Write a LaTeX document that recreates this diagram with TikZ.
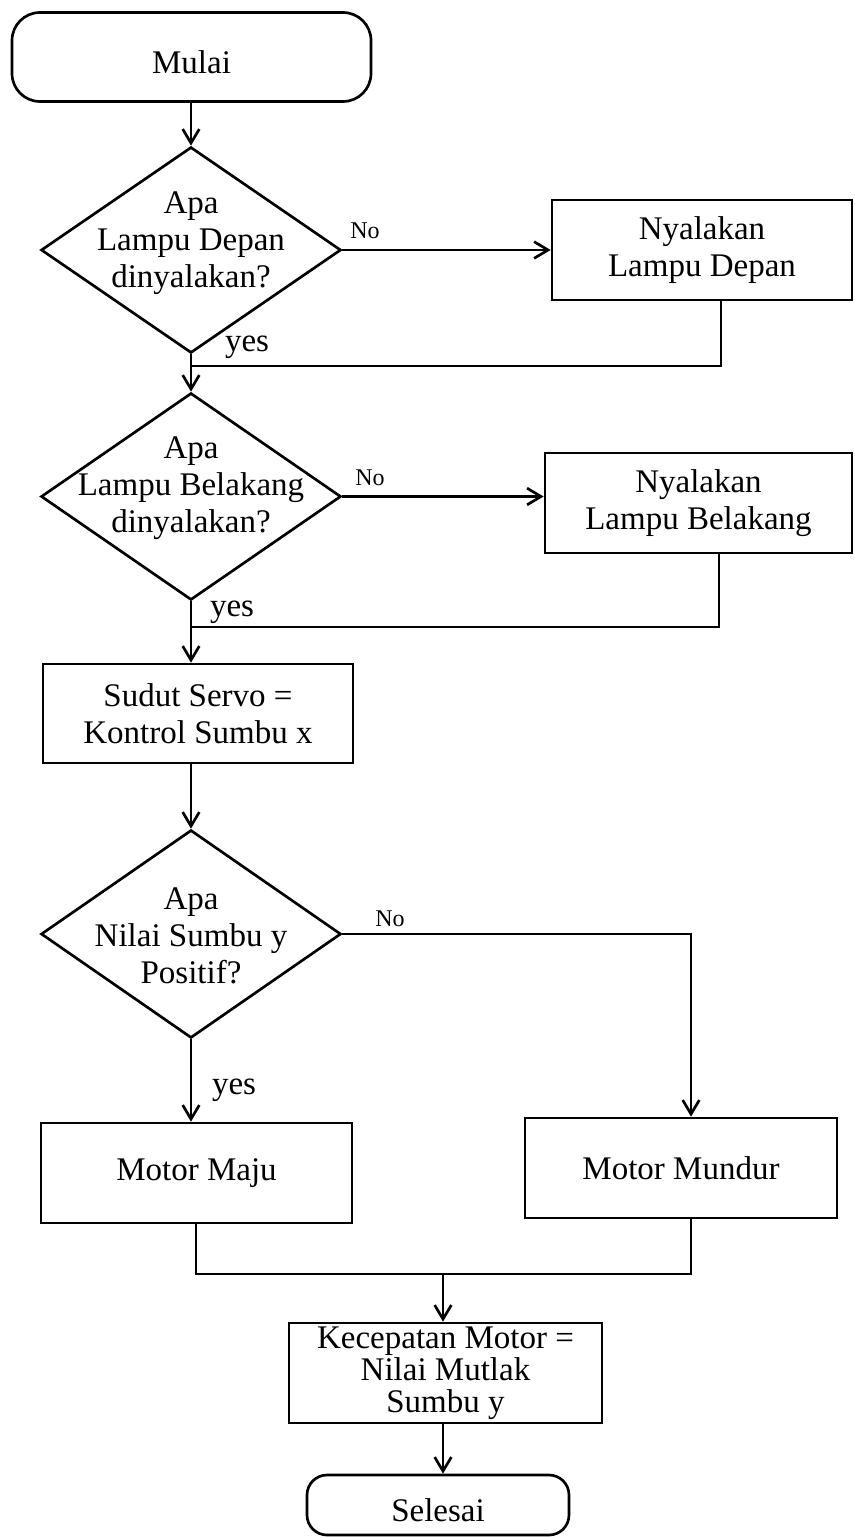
\documentclass[tikz,border=0pt]{standalone}
\usepackage{fontspec}
\setmainfont{Liberation Serif}
\usetikzlibrary{shapes.geometric,arrows.meta}

\tikzset{every picture/.style={line width=2pt}}
\tikzset{
  flowtext/.style={font=\fontsize{24.75}{27.75}\selectfont, inner sep=0pt, align=center},
  terminal/.style={draw, rectangle, flowtext, text height=24.5pt, text depth=0pt},
  process/.style={draw, rectangle, flowtext},
  decision/.style={draw, diamond, inner sep=0pt, minimum width=225pt, minimum height=154.5pt},
  branch/.style={font=\fontsize{18}{20}\selectfont, inner sep=0pt},
  flow/.style={-{Straight Barb[length=10.5pt,width=12.5pt]}},
}

\begin{document}
\begin{tikzpicture}[x=0.75pt,y=0.75pt,yscale=-1,xscale=1]
\useasboundingbox (0,0) rectangle (855,1538);

% Terminal: start
\node[terminal, rounded corners=21pt, minimum width=269.25pt, minimum height=66.75pt] (mulai) at (191.5,57) {Mulai};

% Decision: lampu depan
\node[decision] (tanya1) at (191,250) {};
% Text Node
\node[flowtext] (tanya1txt) at (191,243) {Apa\\Lampu Depan\\dinyalakan?};
% Process
\node[process, minimum width=225pt, minimum height=75pt] (depan) at (702,250) {Nyalakan\\Lampu Depan};
\coordinate (gab1) at (191,366);
\coordinate (gab1r) at (721,366);

% Decision: lampu belakang
\node[decision, minimum height=155.25pt] (tanya2) at (191,496.5) {};
% Text Node
\node[flowtext] (tanya2txt) at (191,488) {Apa\\Lampu Belakang\\dinyalakan?};
% Process
\node[process, minimum width=230.25pt, minimum height=75pt] (belakang) at (698.5,503) {Nyalakan\\Lampu Belakang};
\coordinate (gab2) at (191,627);
\coordinate (gab2r) at (719,627);

% Process: servo
\node[process, minimum width=232.5pt, minimum height=74.25pt] (servo) at (198,713.5) {Sudut Servo =\\Kontrol Sumbu x};

% Decision: sumbu y
\node[decision, minimum height=156pt] (tanya3) at (191,934) {};
% Text Node
\node[flowtext] (tanya3txt) at (191,936) {Apa\\Nilai Sumbu y\\Positif?};
\coordinate (mundurin) at (691,934);

% Process: motor
\node[process, minimum width=233.25pt, minimum height=75pt] (maju) at (196.5,1173) {Motor Maju};
\node[process, minimum width=234pt, minimum height=75pt] (mundur) at (681,1168) {Motor Mundur};
\coordinate (gab3l) at (196,1274);
\coordinate (gab3) at (443,1274);
\coordinate (gab3r) at (691,1274);

% Process: kecepatan
\node[process, minimum width=234.75pt, minimum height=75pt, font=\fontsize{24.75}{24}\selectfont] (kecepatan) at (445.5,1373) {Kecepatan Motor =\\Nilai Mutlak\\Sumbu y};

% Terminal: end
\node[terminal, rounded corners=15pt, minimum width=196.5pt, minimum height=45pt] (selesai) at (438,1505) {Selesai};

% Connectors
\draw[flow] (mulai.south -| tanya1.north) -- (tanya1.north);
\draw[flow] (tanya1.east) -- (depan.west);
\draw (depan.south -| gab1r) -- (gab1r) -- (gab1);
\draw[flow] (tanya1.south) -- (tanya2.north);
\draw[flow] (tanya2.east) -- (tanya2.east -| belakang.west);
\draw (belakang.south -| gab2r) -- (gab2r) -- (gab2);
\draw[flow] (tanya2.south) -- (tanya2.south |- servo.north);
\draw[flow] (servo.south -| tanya3.north) -- (tanya3.north);
\draw[flow] (tanya3.east) -- (mundurin) -- (mundurin |- mundur.north);
\draw[flow] (tanya3.south) -- (tanya3.south |- maju.north);
\draw (maju.south -| gab3l) -- (gab3l) -- (gab3r) -- (mundur.south -| gab3r);
\draw[flow] (gab3) -- (gab3 |- kecepatan.north);
\draw[flow] (kecepatan.south -| gab3) -- (gab3 |- selesai.north);

% Text Node
\node[branch] (no1) at (365,231) {No};
% Text Node
\node[branch] (no2) at (370,478) {No};
% Text Node
\node[branch] (no3) at (390,919) {No};
% Text Node
\node[flowtext] (yes1) at (247,347) {yes};
% Text Node
\node[flowtext] (yes2) at (232,612) {yes};
% Text Node
\node[flowtext] (yes3) at (234,1090) {yes};

\end{tikzpicture}
\end{document}
